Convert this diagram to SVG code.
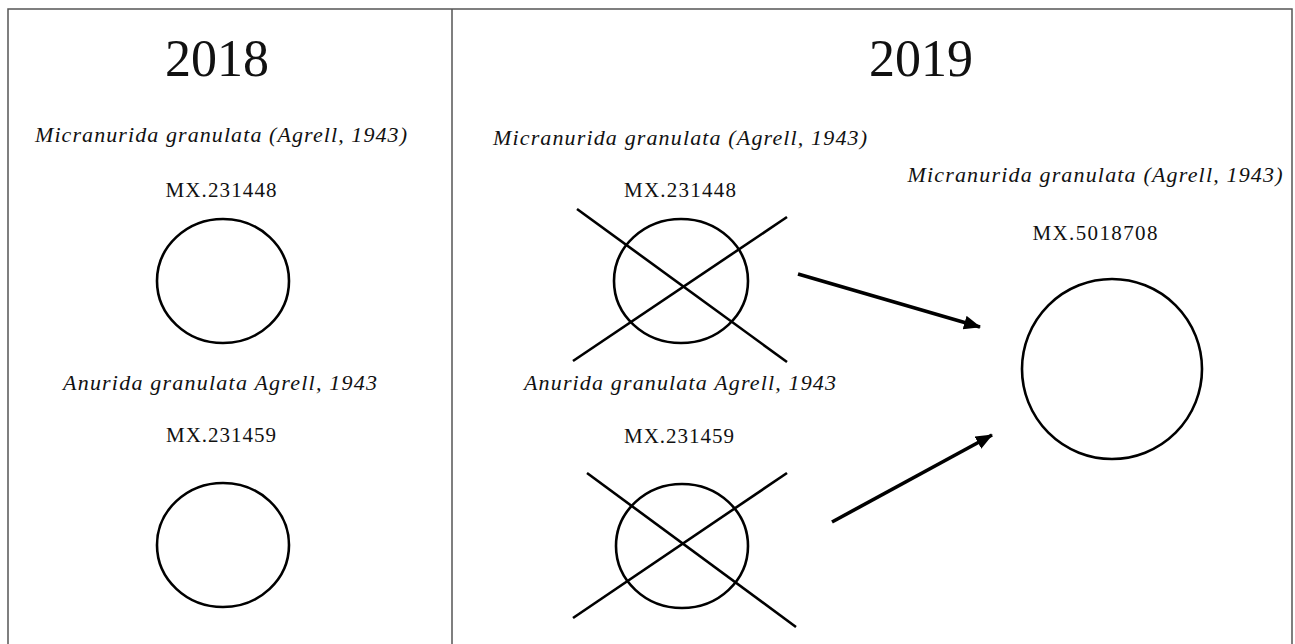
<svg xmlns="http://www.w3.org/2000/svg" width="1295" height="644" viewBox="0 0 1295 644">
<defs>
<style>
.frame{fill:none;stroke:#555;stroke-width:1.5}
.yr{font-family:"Liberation Serif","Times New Roman",serif;font-size:52px;fill:#111;text-anchor:middle}
.sp{font-family:"Liberation Serif","Times New Roman",serif;font-style:italic;font-size:22px;fill:#111;text-anchor:middle}
.id{font-family:"Liberation Serif","Times New Roman",serif;font-size:21px;fill:#111;text-anchor:middle}
.c{fill:none;stroke:#000;stroke-width:2.6}
.x{stroke:#000;stroke-width:2.6;fill:none}
.arr{stroke:#000;stroke-width:3.6;fill:none;marker-end:url(#ah)}
</style>
<marker id="ah" markerUnits="userSpaceOnUse" markerWidth="18" markerHeight="16" refX="16" refY="7" orient="auto">
<path d="M0,0 L17,7 L0,14 z" fill="#000"/>
</marker>
</defs>
<rect width="1295" height="644" fill="#fff"/>
<path class="frame" d="M8,650 V9 H1292 V650 M452,9 V650"/>
<text class="yr" x="217" y="76">2018</text>
<text class="yr" x="921" y="76">2019</text>

<g id="n2018a">
<text class="sp" x="221" y="142" textLength="372">Micranurida granulata (Agrell, 1943)</text>
<text class="id" x="221" y="197" textLength="111">MX.231448</text>
<ellipse class="c" cx="223" cy="281" rx="66" ry="62"/>
</g>
<g id="n2018b">
<text class="sp" x="220" y="390" textLength="314">Anurida granulata Agrell, 1943</text>
<text class="id" x="221" y="442" textLength="110">MX.231459</text>
<ellipse class="c" cx="223" cy="545" rx="66" ry="62"/>
</g>
<g id="n2019a">
<text class="sp" x="680" y="145" textLength="374">Micranurida granulata (Agrell, 1943)</text>
<text class="id" x="680" y="197" textLength="112">MX.231448</text>
<ellipse class="c" cx="681" cy="281" rx="67" ry="62"/>
<line class="x" x1="577" y1="209" x2="787" y2="362"/>
<line class="x" x1="573" y1="361" x2="787" y2="217"/>
</g>
<g id="n2019b">
<text class="sp" x="680" y="390" textLength="312">Anurida granulata Agrell, 1943</text>
<text class="id" x="679" y="443" textLength="110">MX.231459</text>
<ellipse class="c" cx="682" cy="546" rx="66" ry="62"/>
<line class="x" x1="587" y1="473" x2="796" y2="627"/>
<line class="x" x1="573" y1="618" x2="787" y2="473"/>
</g>
<g id="n2019c">
<text class="sp" x="1095" y="182" textLength="375">Micranurida granulata (Agrell, 1943)</text>
<text class="id" x="1095" y="240" textLength="125">MX.5018708</text>
<circle class="c" cx="1112" cy="369" r="90"/>
</g>
<g id="connectors">
<line class="arr" x1="798" y1="274" x2="980" y2="327"/>
<line class="arr" x1="832" y1="522" x2="992" y2="435"/>
</g>
</svg>
